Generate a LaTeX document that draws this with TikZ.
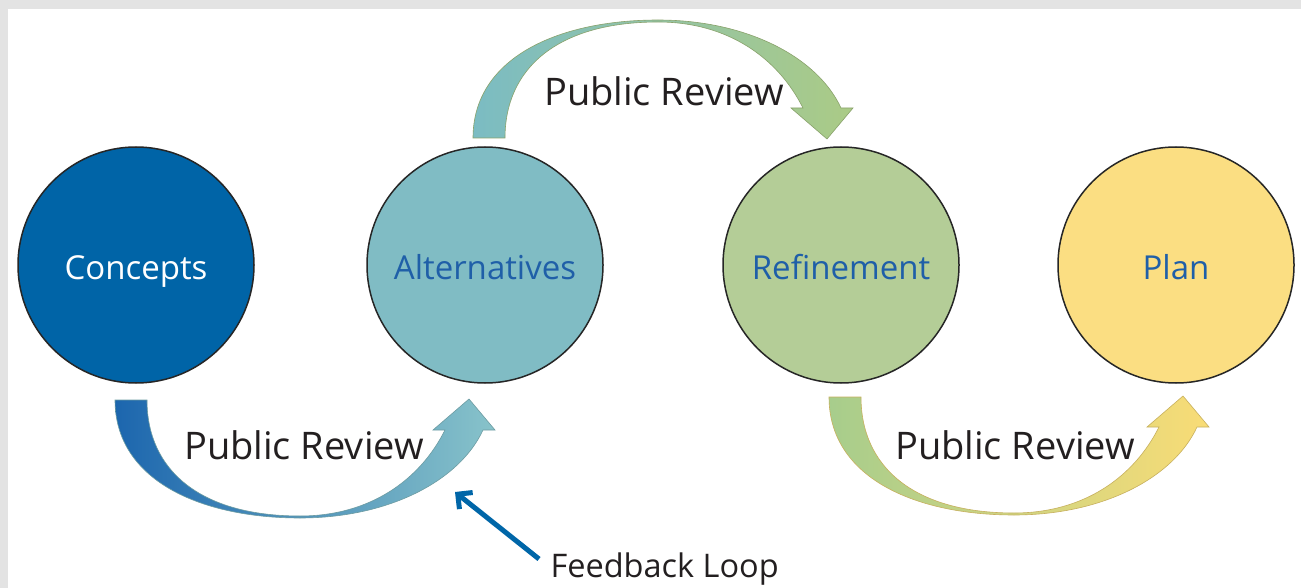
\documentclass[tikz,border=0pt]{standalone}
\usepackage{fontspec}
\setmainfont{Open Sans}
\usepackage{xcolor}
\usetikzlibrary{arrows.meta, positioning, calc}

\definecolor{bggray}{HTML}{E3E3E3}
\definecolor{conceptblue}{HTML}{0064A7}
\definecolor{altteal}{HTML}{80BCC4}
\definecolor{refgreen}{HTML}{B4CD97}
\definecolor{planyellow}{HTML}{FBDE82}
\definecolor{stagetext}{HTML}{1F5FA8}
\definecolor{darktext}{HTML}{231F20}
\definecolor{fbblue}{HTML}{0066A8}
% arrow shades
\definecolor{arrowblue}{HTML}{1C66AE}
\definecolor{arrowteal}{HTML}{88C3CA}
\definecolor{arrowtealb}{HTML}{7BBCC3}
\definecolor{arrowgreen}{HTML}{ABCB86}
\definecolor{arrowgreenb}{HTML}{A7CD8C}
\definecolor{arrowyellow}{HTML}{F9DC76}

\tikzset{
  stage/.style={circle, draw=black!85, line width=1.5pt, minimum size=236pt,
    inner sep=0pt, text height=28pt, text depth=0pt, text=stagetext,
    font=\fontsize{33}{40}\selectfont},
  review/.style={anchor=base, text=darktext, font=\fontsize{38}{45}\selectfont},
  pics/bendarrow/.style 2 args={code={
    \shade[left color=#1, right color=#2, draw=#2!80!black, line width=0.6pt]
      (0,0) .. controls (0,80) and (85,118) .. (185,118)
      .. controls (275,118) and (345,80) .. (368,30)
      -- (380,30) -- (354,-1) -- (318,30) -- (330,30)
      .. controls (305,80) and (255,116) .. (185,116)
      .. controls (85,116) and (32,70) .. (32,0) -- cycle;
  }}
}

\begin{document}
\begin{tikzpicture}[x=1pt, y=-1pt]
% frame
\useasboundingbox (0,0) rectangle (1301,588);
\fill[bggray] (0,0) rectangle (1301,588);
\fill[white] (8,9) rectangle (1301,588);

% stages
\node[stage, fill=conceptblue, text=white] (concepts) at (136,265) {Concepts};
\node[stage, fill=altteal] (alternatives) at (485,265) {Alternatives};
\node[stage, fill=refgreen] (refinement) at (841,265) {Refinement};
\node[stage, fill=planyellow] (plan) at (1176,265) {Plan};

% curved arrows between stages
\pic at (115,400) {bendarrow={arrowblue}{arrowteal}};
\pic[yscale=-1] at (473,138) {bendarrow={arrowtealb}{arrowgreen}};
\pic at (829,397) {bendarrow={arrowgreenb}{arrowyellow}};

% labels
\node[review] (review1) at (304,459) {Public Review};
\node[review] (review2) at (664,106) {Public Review};
\node[review] (review3) at (1015,459) {Public Review};

% feedback loop
\node[anchor=base west, text=darktext, font=\fontsize{32.5}{40}\selectfont]
  (feedback) at (547,577) {Feedback Loop};
\coordinate (fbtail) at (539,559);
\coordinate (fbtip) at (455,492);
\draw[fbblue, line width=5pt, -{Straight Barb[angle=90:15pt]}] (fbtail) -- (fbtip);
\end{tikzpicture}
\end{document}
